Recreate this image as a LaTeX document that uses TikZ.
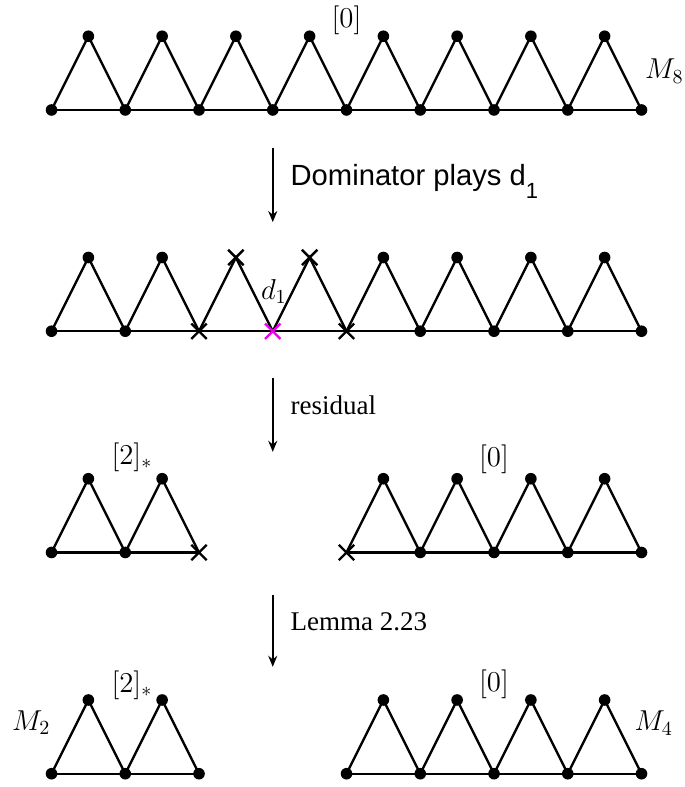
\RequirePackage{fix-cm}
\documentclass[tikz,border=0pt]{standalone}
\usepackage{fontspec}
\newfontfamily\stepsans{Liberation Sans}
\newfontfamily\stepserif{Liberation Serif}
\usepackage{tikz}
\usetikzlibrary{arrows.meta}
\usetikzlibrary{shapes.misc, backgrounds}
\definecolor{dmagenta}{RGB}{235,0,235}

\begin{document}
\begin{tikzpicture}[
      >={Stealth[length=5.5pt, width=4.5pt]},
      x=18.44pt, y=18.44pt,
      edge/.style={line width=1.15pt},
      flow/.style={line width=0.9pt, ->},
      dot/.style={circle, fill=black, inner sep=0pt, minimum size=5.8pt},
      xmark/.style={cross out, draw=black, line width=1.2pt, inner sep=0pt, minimum size=6.5pt},
      dmark/.style={xmark, draw=dmagenta},
      lbl/.style={font=\fontsize{14.4}{17}\selectfont, inner sep=0pt},
      steplbl/.style={inner sep=0pt, anchor=base west, xshift=8.5pt}
    ]
    \useasboundingbox (-1.397,-18.36) rectangle (17.153,2.983);

    % Riga 1: M_8
    \foreach \i in {0,...,8} \node[dot] (a\i) at (2*\i,0) {};
    \foreach \i in {1,...,8} \node[dot] (at\i) at (2*\i-1,2) {};
    \node[lbl] (a-lab) at (8,2.44) {$[0]$};
    \node[lbl] (m8) at (16.62,1.05) {$M_8$};

    % Riga 2: dopo la mossa d_1
    \foreach \i/\m in {0/dot,1/dot,2/xmark,3/dmark,4/xmark,5/dot,6/dot,7/dot,8/dot}
      \node[\m] (b\i) at (2*\i,-6) {};
    \foreach \i/\m in {1/dot,2/dot,3/xmark,4/xmark,5/dot,6/dot,7/dot,8/dot}
      \node[\m] (bt\i) at (2*\i-1,-4) {};
    \node[lbl] (d1) at (6.03,-4.92) {$d_1$};

    % Riga 3: residuo
    \foreach \i/\m in {0/dot,1/dot,2/xmark} \node[\m] (c\i) at (2*\i,-12) {};
    \foreach \i in {1,2} \node[dot] (ct\i) at (2*\i-1,-10) {};
    \foreach \i/\m in {0/xmark,1/dot,2/dot,3/dot,4/dot} \node[\m] (d\i) at (8+2*\i,-12) {};
    \foreach \i in {1,...,4} \node[dot] (dt\i) at (7+2*\i,-10) {};
    \node[lbl] (c-lab) at (2.18,-9.42) {$[2]_*$};
    \node[lbl] (d-lab) at (12,-9.46) {$[0]$};

    % Riga 4: M_2 e M_4
    \foreach \i in {0,1,2} \node[dot] (e\i) at (2*\i,-18) {};
    \foreach \i in {1,2} \node[dot] (et\i) at (2*\i-1,-16) {};
    \foreach \i in {0,...,4} \node[dot] (f\i) at (8+2*\i,-18) {};
    \foreach \i in {1,...,4} \node[dot] (ft\i) at (7+2*\i,-16) {};
    \node[lbl] (e-lab) at (2.18,-15.59) {$[2]_*$};
    \node[lbl] (f-lab) at (12,-15.57) {$[0]$};
    \node[lbl] (m2) at (-0.55,-16.62) {$M_2$};
    \node[lbl] (m4) at (16.33,-16.63) {$M_4$};

    % Lati (sotto i vertici)
    \begin{scope}[on background layer]
      \draw[edge] (a0.center) -- (a8.center);
      \foreach \i [remember=\i as \j (initially 0)] in {1,...,8}
        \draw[edge] (a\j.center) -- (at\i.center) -- (a\i.center);
      \draw[edge] (b0.center) -- (b8.center);
      \foreach \i [remember=\i as \j (initially 0)] in {1,...,8}
        \draw[edge] (b\j.center) -- (bt\i.center) -- (b\i.center);
      \draw[edge] (c0.center) -- (c2.center);
      \foreach \i [remember=\i as \j (initially 0)] in {1,2}
        \draw[edge] (c\j.center) -- (ct\i.center) -- (c\i.center);
      \draw[edge] (d0.center) -- (d4.center);
      \foreach \i [remember=\i as \j (initially 0)] in {1,...,4}
        \draw[edge] (d\j.center) -- (dt\i.center) -- (d\i.center);
      \draw[edge] (e0.center) -- (e2.center);
      \foreach \i [remember=\i as \j (initially 0)] in {1,2}
        \draw[edge] (e\j.center) -- (et\i.center) -- (e\i.center);
      \draw[edge] (f0.center) -- (f4.center);
      \foreach \i [remember=\i as \j (initially 0)] in {1,...,4}
        \draw[edge] (f\j.center) -- (ft\i.center) -- (f\i.center);
    \end{scope}

    % Frecce fra le righe
    \coordinate (s1) at (6,-1.03);
    \coordinate (s1e) at (6,-3.04);
    \coordinate (s2) at (6,-7.27);
    \coordinate (s2e) at (6,-9.27);
    \coordinate (s3) at (6,-13.15);
    \coordinate (s3e) at (6,-15.1);
    \draw[flow] (s1) -- (s1e) node[midway, steplbl]
      {\stepsans\fontsize{14.6}{17}\selectfont Dominator plays d\raisebox{-6.5pt}{\fontsize{11}{13}\selectfont 1}};
    \draw[flow] (s2) -- (s2e) node[midway, steplbl]
      {\stepserif\fontsize{13.5}{16}\selectfont residual};
    \draw[flow] (s3) -- (s3e) node[midway, steplbl]
      {\stepserif\fontsize{13.5}{16}\selectfont Lemma 2.23};
  \end{tikzpicture}
\end{document}
